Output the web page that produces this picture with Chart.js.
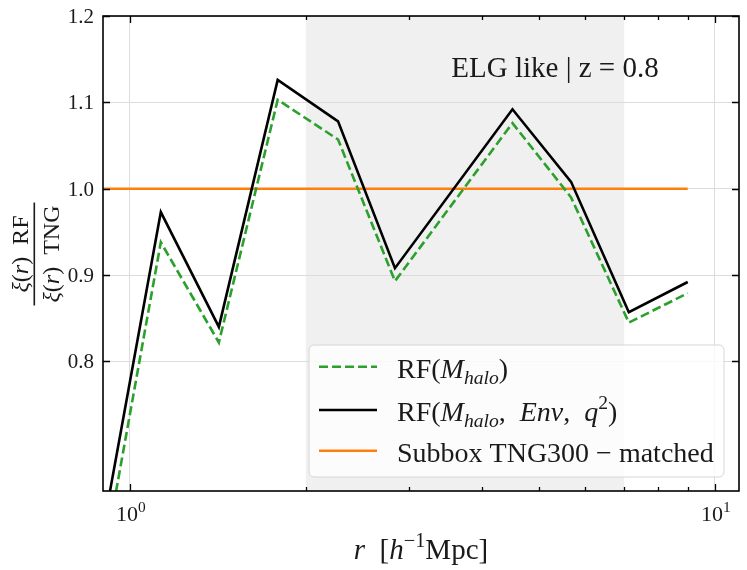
<!DOCTYPE html>
<html><head><meta charset="utf-8">
<script src="https://cdn.jsdelivr.net/npm/chart.js@4.4.1/dist/chart.umd.min.js"></script>
<style>html,body{margin:0;padding:0;background:#fff;overflow:hidden}#wrap{width:747px;height:570px;position:relative}</style>
</head><body><div id="wrap"><canvas id="c" width="747" height="570"></canvas></div>
<script>
// ---- data ----
const rValues = [0.897, 1.13, 1.42, 1.79, 2.27, 2.84, 4.51, 5.68, 7.13, 8.99];
const rfMhalo = [0.56, 0.938, 0.822, 1.103, 1.057, 0.893, 1.076, 0.990, 0.845, 0.879];
const rfMhaloEnvQ2 = [0.60, 0.973, 0.840, 1.126, 1.078, 0.908, 1.092, 1.008, 0.857, 0.892];
const subboxMatched = [1.0, 1.0, 1.0, 1.0, 1.0, 1.0, 1.0, 1.0, 1.0, 1.0];
const yTicks = [0.8, 0.9, 1.0, 1.1, 1.2];
const xMajorTicks = [1, 10];
const xMinorTicks = [2, 3, 4, 5, 6, 7, 8, 9];
const xTickExponents = ['0', '1'];
const shadeRange = [2, 7];
const titleText = 'ELG like | z = 0.8';

const FONT = '"Liberation Serif", "Times New Roman", serif';
const COLORS = { green: '#2ca02c', black: '#000000', orange: '#ff7f0e' };

function pts(ys) { return rValues.map((x, i) => ({ x: x, y: ys[i] })); }

// rich text helpers
function segFont(s, size) {
  const sz = (s.sup || s.sub) ? size * 0.7 : size;
  return (s.it ? 'italic ' : '') + sz.toFixed(1) + 'px ' + FONT;
}
function richWidth(ctx, segs, size) {
  let w = 0;
  for (const s of segs) { ctx.font = segFont(s, size); w += ctx.measureText(s.t).width; }
  return w;
}
function drawRich(ctx, segs, x, y, size, align) {
  const w = richWidth(ctx, segs, size);
  let cx = align === 'center' ? x - w / 2 : (align === 'right' ? x - w : x);
  ctx.textBaseline = 'alphabetic';
  ctx.textAlign = 'left';
  for (const s of segs) {
    ctx.font = segFont(s, size);
    let dy = 0;
    if (s.sup) dy = -size * 0.42;
    if (s.sub) dy = size * 0.22;
    ctx.fillText(s.t, cx, y + dy);
    cx += ctx.measureText(s.t).width;
  }
}

const legendItems = [
  { color: COLORS.green, dash: [9, 4], segs: [{ t: 'RF(' }, { t: 'M', it: 1 }, { t: 'halo', it: 1, sub: 1 }, { t: ')' }] },
  { color: COLORS.black, dash: [], segs: [{ t: 'RF(' }, { t: 'M', it: 1 }, { t: 'halo', it: 1, sub: 1 }, { t: ',  ' }, { t: 'Env', it: 1 }, { t: ',  ' }, { t: 'q', it: 1 }, { t: '2', sup: 1 }, { t: ')' }] },
  { color: COLORS.orange, dash: [], segs: [{ t: 'Subbox TNG300 \u2212 matched' }] }
];

const decor = {
  id: 'decor',
  beforeDraw(chart) {
    const { ctx, chartArea: a, scales: { x } } = chart;
    ctx.save();
    ctx.fillStyle = '#ffffff';
    ctx.fillRect(0, 0, chart.width, chart.height);
    const x0 = x.getPixelForValue(shadeRange[0]), x1 = x.getPixelForValue(shadeRange[1]);
    ctx.fillStyle = '#f0f0f0';
    ctx.fillRect(x0, a.top, x1 - x0, a.bottom - a.top);
    ctx.restore();
  },
  afterDatasetsDraw(chart) {
    const { ctx, chartArea: a, scales: { x, y } } = chart;
    ctx.save();
    // frame
    ctx.strokeStyle = '#000';
    ctx.lineWidth = 1.6;
    ctx.strokeRect(a.left, a.top, a.right - a.left, a.bottom - a.top);
    // ticks (inward)
    ctx.lineWidth = 1.3;
    ctx.beginPath();
    for (const v of xMajorTicks) {
      const px = Math.round(x.getPixelForValue(v)) + 0.5;
      ctx.moveTo(px, a.bottom); ctx.lineTo(px, a.bottom - 7);
      ctx.moveTo(px, a.top); ctx.lineTo(px, a.top + 7);
    }
    for (const v of xMinorTicks) {
      const px = Math.round(x.getPixelForValue(v)) + 0.5;
      ctx.moveTo(px, a.bottom); ctx.lineTo(px, a.bottom - 4);
      ctx.moveTo(px, a.top); ctx.lineTo(px, a.top + 4);
    }
    for (const v of yTicks) {
      const py = Math.round(y.getPixelForValue(v)) + 0.5;
      ctx.moveTo(a.left, py); ctx.lineTo(a.left + 7, py);
      ctx.moveTo(a.right, py); ctx.lineTo(a.right - 7, py);
    }
    ctx.stroke();

    ctx.fillStyle = '#1a1a1a';
    // y tick labels
    ctx.font = '21px ' + FONT;
    ctx.textAlign = 'right';
    ctx.textBaseline = 'middle';
    for (const v of yTicks) {
      ctx.fillText(v.toFixed(1), a.left - 9, y.getPixelForValue(v) + 1.5);
    }
    // x tick labels 10^n
    xMajorTicks.forEach((v, i) => {
      drawRich(ctx, [{ t: '10' }, { t: xTickExponents[i], sup: 1 }], x.getPixelForValue(v) + 1, a.bottom + 30, 22, 'center');
    });
    // x axis label
    drawRich(ctx, [{ t: 'r', it: 1 }, { t: '  [' }, { t: 'h', it: 1 }, { t: '\u22121', sup: 1 }, { t: 'Mpc]' }],
      (a.left + a.right) / 2, a.bottom + 68, 29, 'center');
    // y axis label (fraction, rotated)
    ctx.save();
    ctx.translate(34.3, 254);
    ctx.rotate(-Math.PI / 2);
    const fs = 24;
    const num = [{ t: '\u03be', it: 1 }, { t: '(' }, { t: 'r', it: 1 }, { t: ')  RF' }];
    const den = [{ t: '\u03be', it: 1 }, { t: '(' }, { t: 'r', it: 1 }, { t: ')  TNG' }];
    const wl = Math.max(richWidth(ctx, num, fs), richWidth(ctx, den, fs)) + 6;
    ctx.fillStyle = '#1a1a1a';
    ctx.fillRect(-wl / 2, -0.8, wl, 1.6);
    drawRich(ctx, num, 0, -6, fs, 'center');
    drawRich(ctx, den, 0, 25, fs, 'center');
    ctx.restore();

    // title annotation
    ctx.fillStyle = '#1a1a1a';
    drawRich(ctx, [{ t: titleText }], 555, 77, 29, 'center');

    // legend
    const lx = 309, ly = 345, lw = 415, lh = 132, r = 5;
    ctx.beginPath();
    ctx.moveTo(lx + r, ly);
    ctx.arcTo(lx + lw, ly, lx + lw, ly + lh, r);
    ctx.arcTo(lx + lw, ly + lh, lx, ly + lh, r);
    ctx.arcTo(lx, ly + lh, lx, ly, r);
    ctx.arcTo(lx, ly, lx + lw, ly, r);
    ctx.closePath();
    ctx.fillStyle = 'rgba(255,255,255,0.8)';
    ctx.fill();
    ctx.strokeStyle = '#d6d6d6';
    ctx.lineWidth = 1;
    ctx.stroke();
    const rows = [366.7, 410, 450.7];
    legendItems.forEach((it, i) => {
      ctx.beginPath();
      ctx.setLineDash(it.dash);
      ctx.strokeStyle = it.color;
      ctx.lineWidth = 2.6;
      ctx.moveTo(319, rows[i]); ctx.lineTo(377, rows[i]);
      ctx.stroke();
      ctx.setLineDash([]);
      ctx.fillStyle = '#1a1a1a';
      drawRich(ctx, it.segs, 397, rows[i] + 11, 28, 'left');
    });
    ctx.restore();
  }
};

new Chart(document.getElementById('c'), {
  type: 'line',
  data: {
    datasets: [
      { label: 'Subbox TNG300 - matched', data: pts(subboxMatched), borderColor: COLORS.orange, borderWidth: 2.6, pointRadius: 0, fill: false, tension: 0, order: 3 },
      { label: 'RF(M_halo, Env, q^2)', data: pts(rfMhaloEnvQ2), borderColor: COLORS.black, borderWidth: 2.6, pointRadius: 0, fill: false, tension: 0, order: 2 },
      { label: 'RF(M_halo)', data: pts(rfMhalo), borderColor: COLORS.green, borderWidth: 2.6, borderDash: [9, 4], pointRadius: 0, fill: false, tension: 0, order: 1 }
    ]
  },
  options: {
    responsive: false,
    animation: false,
    layout: { padding: { left: 0, top: 16, right: 8, bottom: 79 } },
    plugins: { legend: { display: false }, tooltip: { enabled: false } },
    scales: {
      x: {
        type: 'logarithmic', min: 0.9, max: 11,
        afterBuildTicks(s) { s.ticks = xMajorTicks.map(v => ({ value: v })); },
        afterFit(s) { s.height = 0; },
        ticks: { display: false },
        grid: { color: '#dcdcdc', lineWidth: 1, drawTicks: false },
        border: { display: false }
      },
      y: {
        type: 'linear', min: 0.65, max: 1.2,
        afterBuildTicks(s) { s.ticks = yTicks.map(v => ({ value: v })); },
        afterFit(s) { s.width = 103; },
        ticks: { display: false },
        grid: { color: '#dcdcdc', lineWidth: 1, drawTicks: false },
        border: { display: false }
      }
    }
  },
  plugins: [decor]
});
</script>
</body></html>
